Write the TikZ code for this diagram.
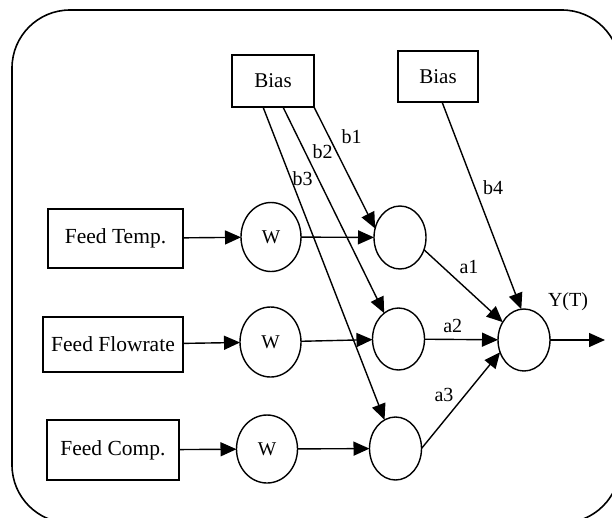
\documentclass[tikz,border=0pt]{standalone}
\usepackage{fontspec}
\setmainfont{Liberation Serif}
\usetikzlibrary{arrows.meta,shapes.geometric}
\begin{document}
\begin{tikzpicture}[x=1pt,y=-1pt,
  every node/.style={inner sep=0pt,outer sep=0pt},
  inbox/.style={draw,line width=1.4pt,font=\fontsize{21.5}{25}\selectfont},
  biasbox/.style={draw,line width=1.4pt,font=\fontsize{21}{24}\selectfont},
  neuron/.style={draw,ellipse,line width=1.4pt,minimum width=52pt,minimum height=63pt},
  weight/.style={draw,ellipse,line width=1.4pt,font=\fontsize{19.5}{22}\selectfont},
  lbl/.style={font=\fontsize{20}{23}\selectfont},
  conn/.style={line width=1.4pt,-{Triangle[length=16pt,width=14pt]}}]
\useasboundingbox (0,0) rectangle (612,517);
\clip (0,0) rectangle (612,517);
% frame round the whole network
\draw[line width=1.6pt,rounded corners=58pt] (12,10) rectangle (620,523);

% bias sources
\node[biasbox,minimum width=82pt,minimum height=52pt] (bias1) at (273,81) {Bias};
\node[biasbox,minimum width=80pt,minimum height=51pt] (bias2) at (438,76.5) {Bias};

% inputs
\node[inbox,minimum width=135pt,minimum height=59pt] (ft) at (115.5,238.5) {Feed Temp.};
\node[inbox,minimum width=140pt,minimum height=55pt] (ff) at (113,344.5) {Feed Flowrate};
\node[inbox,minimum width=132pt,minimum height=60pt] (fc) at (113,450) {Feed Comp.};

% weights
\node[weight,minimum width=60pt,minimum height=69pt] (w1) at (271,237) {W};
\node[weight,minimum width=61pt,minimum height=70pt] (w2) at (270.5,342) {W};
\node[weight,minimum width=61pt,minimum height=68pt] (w3) at (267,449) {W};

% hidden neurons and output neuron
\node[neuron] (h1) at (400,237.5) {};
\node[neuron,minimum height=62pt] (h2) at (398.5,339) {};
\node[neuron] (h3) at (395.5,448.5) {};
\node[neuron,minimum height=62pt] (out) at (524,340) {};
\coordinate (yend) at (605,340);

% input -> weight -> hidden
\draw[conn] (ft) -- (w1);
\draw[conn] (ff) -- (w2);
\draw[conn] (fc) -- (w3);
\draw[conn] (w1) -- (h1);
\draw[conn] (w2) -- (h2);
\draw[conn] (w3) -- (h3);

% bias connections
\draw[conn] (bias1.south east) -- (h1.160);
\draw[conn] (bias1.-69) -- (h2.119);
\draw[conn] (bias1.-111.6) -- (h3.111);
\draw[conn] (bias2.-81.7) -- (out.95);

% hidden -> output
\draw[conn] (h1.-27.5) -- (out.140);
\draw[conn] (h2) -- (out);
\draw[conn] (h3.east) -- (out.-153);
\draw[conn] (out) -- (yend);

% labels
\node[lbl] at (351.7,136.7) {b1};
\node[lbl] at (322.7,151.7) {b2};
\node[lbl] at (302.7,178.3) {b3};
\node[lbl] at (493,188) {b4};
\node[lbl] at (469,266.7) {a1};
\node[lbl] at (452.7,326) {a2};
\node[lbl] at (444,395) {a3};
\node[lbl] at (568,302) {Y(T)};
\end{tikzpicture}
\end{document}
